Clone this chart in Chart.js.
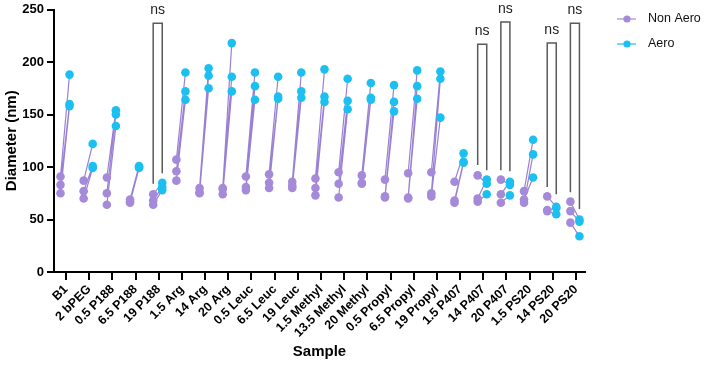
<!DOCTYPE html>
<html>
<head>
<meta charset="utf-8">
<script src="https://cdn.jsdelivr.net/npm/chart.js@4/dist/chart.umd.min.js"></script>
<style>
  html, body { margin: 0; padding: 0; background: #fff; }
  #wrap { width: 708px; height: 370px; }
</style>
</head>
<body>
<div id="wrap"><canvas id="pairChart" width="708" height="370"></canvas></div>
<script>
// categories along x
const categories = ['B1', '2 bPEG', '0.5 P188', '6.5 P188', '19 P188', '1.5 Arg', '14 Arg', '20 Arg',
  '0.5 Leuc', '6.5 Leuc', '19 Leuc', '1.5 Methyl', '13.5 Methyl', '20 Methyl', '0.5 Propyl',
  '6.5 Propyl', '19 Propyl', '1.5 P407', '14 P407', '20 P407', '1.5 PS20', '14 PS20', '20 PS20'];

// replicate diameters (nm), index k of nonAero pairs with index k of aero
const nonAero = [
  [91, 83, 75], [87, 77, 70], [90, 75, 64], [69, 67, 66], [74, 68, 64], [107, 96, 87],
  [80, 76, 75], [80, 79, 74], [91, 81, 78], [93, 85, 80], [86, 82, 80], [89, 80, 73],
  [95, 84, 71], [92, 85, 84], [88, 72, 71], [94, 71, 70], [95, 75, 72], [86, 68, 66],
  [92, 70, 67], [88, 74, 66], [77, 69, 66], [72, 59, 58], [67, 58, 47]
];
const aero = [
  [188, 160, 158], [122, 101, 99], [154, 150, 139], [101, 100, 99], [85, 81, 78], [190, 172, 164],
  [194, 187, 175], [218, 186, 172], [190, 177, 164], [186, 167, 165], [190, 172, 166], [193, 167, 162],
  [184, 163, 155], [180, 166, 164], [178, 162, 153], [192, 177, 165], [191, 184, 147], [113, 105, 104],
  [84, 88, 74], [83, 86, 73], [126, 90, 112], [62, 61, 55], [50, 48, 34]
];

const yTicks = [0, 50, 100, 150, 200, 250];

// "ns" comparisons: category index, bracket top, left leg end, right leg end (data units)
const nsCats = [4, 18, 19, 21, 22];
const nsTop = [237, 217, 238, 218, 237];
const nsLeft = [84, 102, 97, 81, 76];
const nsRight = [94, 97, 96, 74, 60];

const PURPLE = '#a48ad8';
const CYAN = '#1cc0f0';
const LINE = '#9a80d4';
const FONT = "'Liberation Sans', Arial, Helvetica, sans-serif";
const OFF_NA = -0.24, OFF_A = 0.15;

const naPoints = [], aPoints = [], pairLines = [];
categories.forEach((c, i) => {
  nonAero[i].forEach((v, k) => {
    naPoints.push({ x: i + OFF_NA, y: v });
    aPoints.push({ x: i + OFF_A, y: aero[i][k] });
    pairLines.push({ x: i + OFF_NA, y: v }, { x: i + OFF_A, y: aero[i][k] }, { x: i, y: null });
  });
});

const extras = {
  id: 'extras',
  afterDatasetsDraw(chart) {
    const { ctx, scales: { x, y } } = chart;
    ctx.save();
    // significance brackets
    ctx.strokeStyle = '#5a5a5a';
    ctx.lineWidth = 1.5;
    ctx.fillStyle = '#222';
    ctx.font = '14px ' + FONT;
    ctx.textAlign = 'center';
    ctx.textBaseline = 'alphabetic';
    nsCats.forEach((c, j) => {
      const xl = x.getPixelForValue(c + OFF_NA), xr = x.getPixelForValue(c + OFF_A);
      const yt = y.getPixelForValue(nsTop[j]);
      ctx.beginPath();
      ctx.moveTo(xl, y.getPixelForValue(nsLeft[j]));
      ctx.lineTo(xl, yt);
      ctx.lineTo(xr, yt);
      ctx.lineTo(xr, y.getPixelForValue(nsRight[j]));
      ctx.stroke();
      ctx.fillText('ns', (xl + xr) / 2, yt - 9);
    });
    // legend
    const items = [['Non Aero', PURPLE, 19], ['Aero', CYAN, 44]];
    ctx.font = '12.5px ' + FONT;
    ctx.textAlign = 'left';
    ctx.textBaseline = 'middle';
    items.forEach(([label, col, ly]) => {
      ctx.strokeStyle = col;
      ctx.lineWidth = 1.2;
      ctx.beginPath();
      ctx.moveTo(617, ly);
      ctx.lineTo(636, ly);
      ctx.stroke();
      ctx.fillStyle = col;
      ctx.beginPath();
      ctx.arc(627, ly, 3.6, 0, Math.PI * 2);
      ctx.fill();
      ctx.fillStyle = '#111';
      ctx.fillText(label, 648, ly);
    });
    ctx.restore();
  }
};

new Chart(document.getElementById('pairChart'), {
  type: 'scatter',
  data: {
    datasets: [
      { label: 'Aero', data: aPoints, backgroundColor: CYAN, borderWidth: 0, pointRadius: 4.3, order: 0 },
      { label: 'Non Aero', data: naPoints, backgroundColor: PURPLE, borderWidth: 0, pointRadius: 4.3, order: 1 },
      { label: 'pairs', data: pairLines, showLine: true, spanGaps: false, borderColor: LINE, borderWidth: 1.2, pointRadius: 0, order: 2 }
    ]
  },
  options: {
    responsive: false,
    animation: false,
    layout: { padding: { top: 7, right: 123, left: 0, bottom: 0 } },
    plugins: { legend: { display: false }, tooltip: { enabled: false } },
    scales: {
      x: {
        type: 'linear',
        min: -0.52,
        max: 22.39,
        afterBuildTicks: s => { s.ticks = categories.map((c, i) => ({ value: i })); },
        afterFit: s => { s.height = 98; },
        ticks: {
          autoSkip: false, minRotation: 45, maxRotation: 45, padding: 2, color: '#000',
          font: { family: FONT, size: 12.5, weight: 'bold' },
          callback: v => categories[v]
        },
        grid: { drawOnChartArea: false, drawTicks: true, tickLength: 8, color: '#000', lineWidth: 2 },
        border: { color: '#000', width: 2 },
        title: { display: true, text: 'Sample', color: '#000', font: { family: FONT, size: 15, weight: 'bold' }, padding: { top: 0, bottom: 9 } }
      },
      y: {
        min: 0,
        max: 250,
        afterBuildTicks: s => { s.ticks = yTicks.map(v => ({ value: v })); },
        afterFit: s => { s.width = 54; },
        ticks: { padding: 3, color: '#000', font: { family: FONT, size: 13, weight: 'bold', lineHeight: 1 } },
        grid: { drawOnChartArea: false, drawTicks: true, tickLength: 7, color: '#000', lineWidth: 2 },
        border: { color: '#000', width: 2 },
        title: { display: true, text: 'Diameter (nm)', color: '#000', font: { family: FONT, size: 15, weight: 'bold' }, padding: { top: 3, bottom: 0 } }
      }
    }
  },
  plugins: [extras]
});
</script>
</body>
</html>
